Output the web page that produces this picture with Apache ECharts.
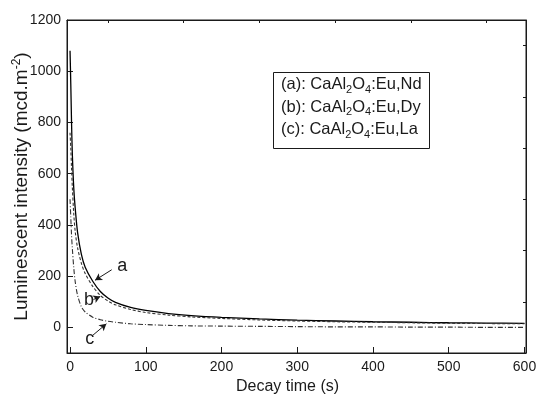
<!DOCTYPE html>
<html>
<head>
<meta charset="utf-8">
<script src="https://cdn.jsdelivr.net/npm/echarts@6/dist/echarts.min.js"></script>
<style>
  html, body { margin: 0; padding: 0; background: #fff; }
  #chart { width: 538px; height: 395px; }
</style>
</head>
<body>
<div id="chart"></div>
<script>
// decay time (s)
const times = [0, 1, 2, 3, 5, 7, 10, 15, 20, 30, 40, 50, 60, 80, 100, 130, 160, 200, 250, 300, 350, 400, 450, 500, 550, 600]
// luminescent intensity (mcd.m-2)
const seriesA = [1080, 950, 800, 680, 540, 460, 370, 285, 235, 180, 140, 115, 98, 78, 66, 54, 46, 39, 33, 28, 25, 22, 20, 18, 17, 16]
const seriesB = [760, 700, 620, 550, 440, 370, 310, 250, 210, 160, 125, 103, 88, 70, 58, 48, 41, 35, 29, 25, 22, 20, 18, 16, 15, 14]
const seriesC = [500, 430, 360, 310, 230, 175, 125, 80, 60, 40, 30, 24, 20, 14, 11, 8, 6, 5, 4, 3, 2, 2, 1, 1, 0, 0]

const xMajor = [0, 100, 200, 300, 400, 500, 600]
const xMinor = [50, 150, 250, 350, 450, 550]
const yMajor = [0, 200, 400, 600, 800, 1000, 1200]
const yMinor = [-100, 100, 300, 500, 700, 900, 1100]

const legendLines = [
  ['(a): CaAl', '2', 'O', '4', ':Eu,Nd'],
  ['(b): CaAl', '2', 'O', '4', ':Eu,Dy'],
  ['(c): CaAl', '2', 'O', '4', ':Eu,La']
]

// label position, arrow start, arrow end (data coords)
const notes = [
  { text: 'a', at: [69, 238], from: [55, 225], to: [33, 184] },
  { text: 'b', at: [25, 105], from: [31, 109], to: [40, 121] },
  { text: 'c', at: [26, -44], from: [30, -31], to: [48, 14] }
]

const toPairs = vals => times.map((t, i) => [t, vals[i]])
const font = 'Liberation Sans, Arial, sans-serif'
const ink = '#1a1a1a'

const chart = echarts.init(document.getElementById('chart'))

const baseX = {
  type: 'value', min: -4, max: 602, gridIndex: 0,
  axisLine: { onZero: false, lineStyle: { color: ink, width: 1 } },
  splitLine: { show: false }
}
const baseY = {
  type: 'value', min: -100, max: 1200, gridIndex: 0,
  axisLine: { show: true, onZero: false, lineStyle: { color: ink, width: 1 } },
  splitLine: { show: false }
}

chart.setOption({
  animation: false,
  backgroundColor: '#fff',
  textStyle: { fontFamily: font },
  grid: {
    left: 67, top: 20, right: 12, bottom: 42,
    outerBoundsMode: 'none',
    show: true, borderColor: ink, borderWidth: 1, backgroundColor: 'transparent'
  },
  xAxis: [
    {
      ...baseX,
      name: 'Decay time (s)',
      nameLocation: 'middle',
      nameGap: 20,
      nameTextStyle: { fontSize: 16, color: ink, fontFamily: font, padding: [0, 18, 0, 0] },
      axisTick: { inside: true, length: 6, customValues: xMajor, lineStyle: { color: ink } },
      axisLabel: { customValues: xMajor, fontSize: 14, color: ink, margin: 7, fontFamily: font, formatter: v => String(v) }
    },
    {
      ...baseX,
      axisTick: { inside: true, length: 3, customValues: xMinor, lineStyle: { color: ink } },
      axisLabel: { show: false }
    }
  ],
  yAxis: [
    {
      ...baseY,
      name: '{n|Luminescent intensity (mcd.m}{s|-2}{n|)}',
      nameLocation: 'middle',
      nameGap: 34,
      nameMoveOverlap: false,
      nameTextStyle: {
        rich: {
          n: { fontSize: 19, color: ink, fontFamily: font },
          s: { fontSize: 12, color: ink, fontFamily: font, padding: [0, 0, 10, 0] }
        }
      },
      axisTick: { inside: true, length: 6, customValues: yMajor, lineStyle: { color: ink } },
      axisLabel: { customValues: yMajor, fontSize: 14, color: ink, margin: 6, fontFamily: font, formatter: v => String(v) }
    },
    {
      ...baseY,
      axisTick: { inside: true, length: 3, customValues: yMinor, lineStyle: { color: ink } },
      axisLabel: { show: false }
    }
  ],
  series: [
    {
      name: 'a', type: 'line', showSymbol: false, smooth: 0.3,
      data: toPairs(seriesA),
      lineStyle: { color: '#000', width: 1.3, type: 'solid' }
    },
    {
      name: 'b', type: 'line', showSymbol: false, smooth: 0.3,
      data: toPairs(seriesB),
      lineStyle: { color: '#333', width: 1.1, type: [3, 2] }
    },
    {
      name: 'c', type: 'line', showSymbol: false, smooth: 0.3,
      data: toPairs(seriesC),
      lineStyle: { color: '#333', width: 1.1, type: [5, 2, 1, 2] }
    },
    {
      // annotation arrows and letters
      type: 'line', data: [], silent: true,
      markLine: {
        silent: true, animation: false,
        symbol: ['none', 'arrow'], symbolSize: [6, 7],
        label: { show: false },
        lineStyle: { color: ink, width: 1, type: 'solid' },
        data: notes.map(n => [{ coord: n.from }, { coord: n.to }])
      },
      markPoint: {
        silent: true, animation: false,
        symbol: 'circle', symbolSize: 0,
        label: { show: true, position: 'inside', fontSize: 18, color: ink, fontFamily: font, formatter: p => p.name },
        data: notes.map(n => ({ name: n.text, coord: n.at }))
      }
    }
  ],
  graphic: [
    {
      type: 'rect', left: 273, top: 72,
      shape: { width: 156, height: 76 },
      style: { fill: '#fff', stroke: ink, lineWidth: 1 }
    },
    ...legendLines.map((parts, i) => ({
      type: 'text', left: 281, top: 76 + i * 22.5,
      style: {
        text: `{n|${parts[0]}}{s|${parts[1]}}{n|${parts[2]}}{s|${parts[3]}}{n|${parts[4]}}`,
        rich: {
          n: { fontSize: 16.5, fill: ink, fontFamily: font },
          s: { fontSize: 11, fill: ink, fontFamily: font, padding: [10, 0, 0, 0] }
        }
      }
    }))
  ]
})
</script>
</body>
</html>
